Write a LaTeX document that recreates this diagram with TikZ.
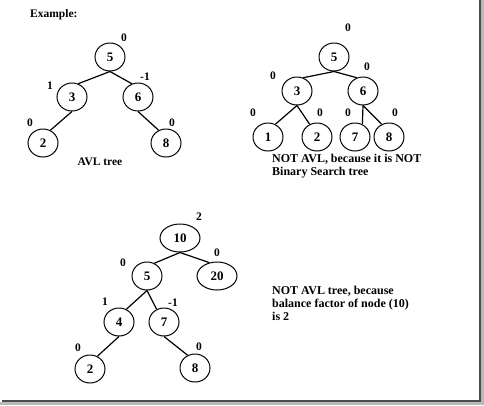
\documentclass[tikz,border=0pt]{standalone}
\usepackage{fontspec}
\setmainfont{Liberation Serif}
\usetikzlibrary{shapes.geometric}
\tikzset{
  tn/.style={draw, ellipse, line width=1pt, minimum width=30pt, minimum height=28pt, inner sep=0pt, font=\bfseries\fontsize{13}{13}\selectfont},
  wide/.style={minimum width=40pt},
  bf/.style={font=\bfseries\fontsize{11.5}{11.5}\selectfont, inner sep=0pt},
  txt/.style={font=\bfseries\fontsize{12}{13}\selectfont, inner sep=0pt, align=left, anchor=north west},
  ed/.style={line width=1.2pt}
}
\begin{document}
\begin{tikzpicture}[x=1pt,y=-1pt]
\useasboundingbox (0,0) rectangle (484,405);
% frame shadow
\fill[gray!55] (481,0) rectangle (484,404);
\fill[gray!55] (0,402) rectangle (484,405);
\fill[black!70] (479,0) rectangle (481,402);
\fill[black!70] (2,400) rectangle (481,402);

\node[bf, anchor=west] (ex) at (30,15) {Example:};

% tree 1
\node[tn] (a5) at (110,57) {5};
\node[tn] (a3) at (72,97) {3};
\node[tn] (a6) at (138,97) {6};
\node[tn] (a2) at (43,143) {2};
\node[tn] (a8) at (166,143) {8};
\node[bf] (la5) at (124,38) {0};
\node[bf] (la3) at (50,86) {1};
\node[bf] (la6) at (145,77) {-1};
\node[bf] (la2) at (30,123) {0};
\node[bf] (la8) at (172,123) {0};
\draw[ed] (a5.south) -- (a3.65);
\draw[ed] (a5.south) -- (a6.115);
\draw[ed] (a3.south) -- (a2.60);
\draw[ed] (a6.south) -- (a8.120);
\node[bf] (t1) at (100,162) {AVL tree};

% tree 2
\node[tn] (b5) at (334,57) {5};
\node[tn] (b3) at (297,91) {3};
\node[tn] (b6) at (363,91) {6};
\node[tn] (b1) at (268,137) {1};
\node[tn] (b2) at (317,137) {2};
\node[tn] (b7) at (355,137) {7};
\node[tn] (b8) at (389,137) {8};
\node[bf] (lb5) at (348,28) {0};
\node[bf] (lb3) at (273,76) {0};
\node[bf] (lb6) at (367,67) {0};
\node[bf] (lb1) at (253,113) {0};
\node[bf] (lb2) at (320,113) {0};
\node[bf] (lb7) at (348,113) {0};
\node[bf] (lb8) at (395,113) {0};
\draw[ed] (b5.south) -- (b3.65);
\draw[ed] (b5.south) -- (b6.115);
\draw[ed] (b3.south) -- (b1.60);
\draw[ed] (b3.south) -- (b2.120);
\draw[ed] (b6.south) -- (b7.60);
\draw[ed] (b6.south) -- (b8.120);
\node[txt] (t2) at (272,154) {NOT AVL, because it is NOT\\Binary Search tree};

% tree 3
\node[tn, wide] (c10) at (180,238) {10};
\node[tn] (c5) at (147,276) {5};
\node[tn, wide] (c20) at (217,276) {20};
\node[tn] (c4) at (119,322) {4};
\node[tn] (c7) at (164,322) {7};
\node[tn] (c2) at (90,369) {2};
\node[tn] (c8) at (195,368) {8};
\node[bf] (lc10) at (199,217) {2};
\node[bf] (lc5) at (123,263) {0};
\node[bf] (lc20) at (217,253) {0};
\node[bf] (lc4) at (105,302) {1};
\node[bf] (lc7) at (173,303) {-1};
\node[bf] (lc2) at (78,348) {0};
\node[bf] (lc8) at (199,347) {0};
\draw[ed] (c10.south) -- (c5.60);
\draw[ed] (c10.south) -- (c20.120);
\draw[ed] (c5.south) -- (c4.60);
\draw[ed] (c5.south) -- (c7.120);
\draw[ed] (c4.south) -- (c2.60);
\draw[ed] (c7.south) -- (c8.120);
\node[txt] (t3) at (272,286) {NOT AVL tree, because\\balance factor of node (10)\\is 2};
\end{tikzpicture}
\end{document}
